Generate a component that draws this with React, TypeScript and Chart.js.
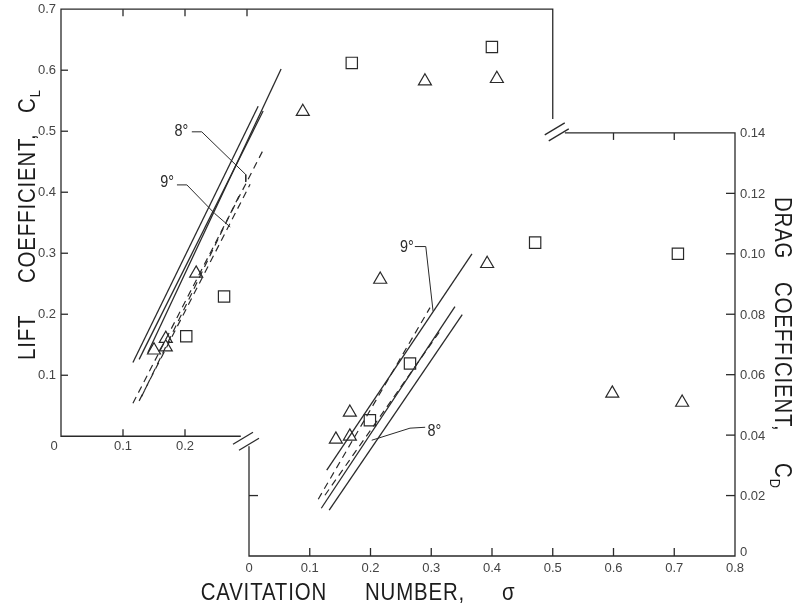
import React, { useEffect, useRef } from "react";
import { Chart, registerables } from "chart.js";

Chart.register(...registerables);

// ---------- tick values / labels ----------
const liftYTicks = [0.1, 0.2, 0.3, 0.4, 0.5, 0.6, 0.7];
const liftYTickLabels = ["0.1", "0.2", "0.3", "0.4", "0.5", "0.6", "0.7"];
const liftXTicks = [0, 0.1, 0.2];
const liftXTickLabels = ["0", "0.1", "0.2"];
const liftTopTicks = [0.1, 0.2, 0.3];
const dragXTicks = [0, 0.1, 0.2, 0.3, 0.4, 0.5, 0.6, 0.7, 0.8];
const dragXTickLabels = ["0", "0.1", "0.2", "0.3", "0.4", "0.5", "0.6", "0.7", "0.8"];
const dragYTicks = [0, 0.02, 0.04, 0.06, 0.08, 0.1, 0.12, 0.14];
const dragYTickLabels = ["0", "0.02", "0.04", "0.06", "0.08", "0.10", "0.12", "0.14"];
const dragTopTicks = [0.6, 0.7];
const dragLeftTicks = [0.02];

// ---------- measured data: lift coefficient vs cavitation number ----------
const liftTriangleSigma = [0.15, 0.169, 0.169, 0.218, 0.39, 0.587, 0.703];
const liftTriangleCL = [0.141, 0.16, 0.146, 0.267, 0.532, 0.582, 0.586];
const liftSquareSigma = [0.202, 0.263, 0.469, 0.695];
const liftSquareCL = [0.164, 0.229, 0.612, 0.638];

// ---------- measured data: drag coefficient vs cavitation number ----------
const dragTriangleSigma = [0.143, 0.166, 0.166, 0.216, 0.392, 0.598, 0.713];
const dragTriangleCD = [0.0386, 0.0475, 0.0396, 0.0915, 0.0967, 0.0538, 0.0508];
const dragSquareSigma = [0.199, 0.265, 0.471, 0.706];
const dragSquareCD = [0.0449, 0.0637, 0.1037, 0.1];

// ---------- theory lines (start/end) ----------
const liftSolidSigma = [[0.116, 0.318], [0.126, 0.326], [0.14, 0.355]];
const liftSolidCL = [[0.121, 0.541], [0.126, 0.533], [0.137, 0.602]];
const liftDashedSigma = [[0.116, 0.327], [0.126, 0.305], [0.13, 0.29]];
const liftDashedCL = [[0.054, 0.471], [0.058, 0.413], [0.065, 0.4]];

const dragSolidSigma = [[0.128, 0.367], [0.119, 0.339], [0.132, 0.351]];
const dragSolidCD = [[0.0284, 0.1], [0.0158, 0.0825], [0.0152, 0.0799]];
const dragDashedSigma = [[0.114, 0.298], [0.125, 0.315]];
const dragDashedCD = [[0.0188, 0.0822], [0.0201, 0.0746]];

// ---------- angle annotations ----------
const liftAnnotLabels = ["8°", "9°"];
const liftAnnotSigma = [0.194, 0.171];
const liftAnnotCL = [0.499, 0.415];
const liftLeaderSigma = [[0.211, 0.227, 0.298, 0.298], [0.187, 0.203, 0.248, 0.273]];
const liftLeaderCL = [[0.499, 0.499, 0.429, 0.417], [0.412, 0.412, 0.365, 0.343]];

const dragAnnotLabels = ["9°", "8°"];
const dragAnnotSigma = [0.26, 0.305];
const dragAnnotCD = [0.102, 0.0413];
const dragLeaderSigma = [[0.273, 0.291, 0.303], [0.29, 0.265, 0.202]];
const dragLeaderCD = [[0.1024, 0.1024, 0.081], [0.0426, 0.0423, 0.0383]];

// ---------- axis extents (frame) ----------
const LIFT_AXIS_END = 0.29;
const UPPER_BREAK_SIGMA = 0.5;
const UPPER_BREAK_CD = 0.1446;
const DRAG_TOP_START = 0.52;
const DRAG_LEFT_TOP = 0.0363;

const INK = "#2a2a2a";
const TICK_INK = "#444";
const FONT = "'Liberation Sans', Arial, sans-serif";

const pts = (xs: number[], ys: number[]) => xs.map((x, i) => ({ x, y: ys[i] }));

function lineSets(xs: number[][], ys: number[][], xAxisID: string, yAxisID: string, dash: number[], width: number) {
  return xs.map((x, i) => ({
    data: pts(x, ys[i]),
    xAxisID,
    yAxisID,
    showLine: true,
    borderColor: INK,
    borderWidth: width,
    borderDash: dash,
    pointRadius: 0,
    fill: false,
  }));
}

function markerSet(xs: number[], ys: number[], xAxisID: string, yAxisID: string, style: string, r: number) {
  return {
    data: pts(xs, ys),
    xAxisID,
    yAxisID,
    showLine: false,
    pointStyle: style,
    pointRadius: r,
    pointBackgroundColor: "#fff",
    pointBorderColor: INK,
    pointBorderWidth: 1.2,
  };
}

const framePlugin = {
  id: "oddFrame",
  beforeDatasetsDraw(chart: any) {
    const ctx = chart.ctx as CanvasRenderingContext2D;
    const s = chart.scales;
    const xl = (v: number) => s.xL.getPixelForValue(v);
    const yl = (v: number) => s.yL.getPixelForValue(v);
    const xd = (v: number) => s.xD.getPixelForValue(v);
    const yd = (v: number) => s.yD.getPixelForValue(v);
    ctx.save();
    ctx.strokeStyle = INK;
    ctx.lineWidth = 1.3;
    const poly = (p: number[][]) => {
      ctx.beginPath();
      ctx.moveTo(p[0][0], p[0][1]);
      for (let i = 1; i < p.length; i++) ctx.lineTo(p[i][0], p[i][1]);
      ctx.stroke();
    };
    poly([
      [xl(LIFT_AXIS_END), yl(0)],
      [xl(0), yl(0)],
      [xl(0), yl(0.7)],
      [xd(UPPER_BREAK_SIGMA), yl(0.7)],
      [xd(UPPER_BREAK_SIGMA), yd(UPPER_BREAK_CD)],
    ]);
    poly([
      [xd(DRAG_TOP_START), yd(0.14)],
      [xd(0.8), yd(0.14)],
      [xd(0.8), yd(0)],
      [xd(0), yd(0)],
      [xd(0), yd(DRAG_LEFT_TOP)],
    ]);
    // break marks
    const slash = (cx: number, cy: number) => poly([[cx - 10, cy + 6], [cx + 10, cy - 6]]);
    slash(xd(0) - 6, yl(0) + 2);
    slash(xd(0), yl(0) + 8);
    slash(xd(UPPER_BREAK_SIGMA) + 2, yd(0.14) - 4);
    slash(xd(UPPER_BREAK_SIGMA) + 6, yd(0.14) + 2);

    // ticks
    const T = 7;
    liftYTicks.slice(0, 6).forEach((v) => poly([[xl(0), yl(v)], [xl(0) + T, yl(v)]]));
    liftTopTicks.forEach((v) => poly([[xl(v), yl(0.7)], [xl(v), yl(0.7) + T]]));
    liftXTicks.slice(1).forEach((v) => poly([[xl(v), yl(0)], [xl(v), yl(0) - T]]));
    dragXTicks.slice(1, 8).forEach((v) => poly([[xd(v), yd(0)], [xd(v), yd(0) - 8]]));
    dragYTicks.slice(1, 7).forEach((v) => poly([[xd(0.8), yd(v)], [xd(0.8) - 9, yd(v)]]));
    dragTopTicks.forEach((v) => poly([[xd(v), yd(0.14)], [xd(v), yd(0.14) + T]]));
    dragLeftTicks.forEach((v) => poly([[xd(0), yd(v)], [xd(0) + 9, yd(v)]]));
    ctx.restore();
  },
  afterDraw(chart: any) {
    const ctx = chart.ctx as CanvasRenderingContext2D;
    const s = chart.scales;
    const xl = (v: number) => s.xL.getPixelForValue(v);
    const yl = (v: number) => s.yL.getPixelForValue(v);
    const xd = (v: number) => s.xD.getPixelForValue(v);
    const yd = (v: number) => s.yD.getPixelForValue(v);

    const txt = (t: string, x: number, y: number, font: string, color: string, align: CanvasTextAlign, base: CanvasTextBaseline, sx = 1) => {
      ctx.save();
      ctx.translate(x, y);
      ctx.scale(sx, 1);
      ctx.font = font;
      ctx.fillStyle = color;
      ctx.textAlign = align;
      ctx.textBaseline = base;
      ctx.fillText(t, 0, 0);
      ctx.restore();
    };
    const tf = `13px ${FONT}`;
    liftYTicks.forEach((v, i) => txt(liftYTickLabels[i], 56, yl(v), tf, TICK_INK, "right", "middle"));
    liftXTicks.forEach((v, i) => txt(liftXTickLabels[i], v === 0 ? xl(v) - 7 : xl(v), yl(0) + 10, tf, TICK_INK, "center", "middle"));
    dragXTicks.forEach((v, i) => txt(dragXTickLabels[i], xd(v), yd(0) + 12, tf, TICK_INK, "center", "middle"));
    dragYTicks.forEach((v, i) => txt(dragYTickLabels[i], xd(0.8) + 5, v === 0 ? yd(v) - 4 : yd(v) + 1, tf, TICK_INK, "left", "middle"));

    // angle labels
    const af = `16px ${FONT}`;
    liftAnnotLabels.forEach((t, i) => txt(t, xl(liftAnnotSigma[i]), yl(liftAnnotCL[i]), af, INK, "center", "middle", 0.9));
    dragAnnotLabels.forEach((t, i) => txt(t, xd(dragAnnotSigma[i]), yd(dragAnnotCD[i]), af, INK, "center", "middle", 0.9));

    // axis titles
    const big = `24px ${FONT}`;
    const small = `15px ${FONT}`;
    const SX = 0.85;
    const word = (t: string, along: number, font: string, dy = 0, align: CanvasTextAlign = "left") => {
      ctx.save();
      ctx.translate(along, dy);
      ctx.scale(SX, 1);
      ctx.font = font;
      (ctx as any).letterSpacing = "1px";
      ctx.fillStyle = "#1c1c1c";
      ctx.textAlign = align;
      ctx.textBaseline = "alphabetic";
      ctx.fillText(t, 0, 0);
      ctx.restore();
    };
    const cw = () => {
      ctx.save();
      ctx.font = big;
      const w = ctx.measureText("C").width * SX;
      ctx.restore();
      return w;
    };
    // left title
    ctx.save();
    ctx.translate(35, 360);
    ctx.rotate(-Math.PI / 2);
    word("LIFT", 0, big);
    word("COEFFICIENT,", 77, big);
    word("C", 247, big);
    word("L", 247 + cw() + 1, small, 5);
    ctx.restore();
    // right title
    ctx.save();
    ctx.translate(775, 197);
    ctx.rotate(Math.PI / 2);
    word("DRAG", 0, big);
    word("COEFFICIENT,", 85, big);
    word("C", 266, big);
    word("D", 266 + cw() + 1, small, 5);
    ctx.restore();
    // bottom title
    ctx.save();
    ctx.translate(0, 600);
    word("CAVITATION", 327, big, 0, "right");
    word("NUMBER,", 365, big);
    word("σ", 502, big);
    ctx.restore();
  },
};

export default function App() {
  const ref = useRef<HTMLCanvasElement | null>(null);
  useEffect(() => {
    if (!ref.current) return;
    const datasets: any[] = [
      ...lineSets(liftSolidSigma, liftSolidCL, "xL", "yL", [], 1.3),
      ...lineSets(liftDashedSigma, liftDashedCL, "xL", "yL", [7, 5], 1.2),
      ...lineSets(dragSolidSigma, dragSolidCD, "xD", "yD", [], 1.3),
      ...lineSets(dragDashedSigma, dragDashedCD, "xD", "yD", [7, 5], 1.2),
      ...lineSets(liftLeaderSigma, liftLeaderCL, "xL", "yL", [], 1),
      ...lineSets(dragLeaderSigma, dragLeaderCD, "xD", "yD", [], 1),
      markerSet(liftTriangleSigma, liftTriangleCL, "xL", "yL", "triangle", 7.5),
      markerSet(liftSquareSigma, liftSquareCL, "xL", "yL", "rect", 8),
      markerSet(dragTriangleSigma, dragTriangleCD, "xD", "yD", "triangle", 7.5),
      markerSet(dragSquareSigma, dragSquareCD, "xD", "yD", "rect", 8),
    ];
    const chart = new Chart(ref.current, {
      type: "scatter",
      data: { datasets },
      options: {
        animation: false,
        responsive: false,
        devicePixelRatio: 1,
        layout: { padding: { left: 61, right: 60, top: 8, bottom: 48 } },
        plugins: { legend: { display: false }, tooltip: { enabled: false } },
        scales: {
          xL: { type: "linear", position: "bottom", min: 0, max: 1.0871, display: false },
          yL: { type: "linear", position: "left", min: -0.19627, max: 0.7, display: false },
          xD: { type: "linear", position: "bottom", min: -0.30947, max: 0.8, display: false },
          yD: { type: "linear", position: "right", min: 0, max: 0.18094, display: false },
        },
      } as any,
      plugins: [framePlugin],
    });
    return () => chart.destroy();
  }, []);
  return (
    <div style={{ position: "absolute", left: 0, top: 0, width: 795, height: 604, background: "#fff" }}>
      <canvas ref={ref} width={795} height={604} style={{ display: "block" }} />
    </div>
  );
}
